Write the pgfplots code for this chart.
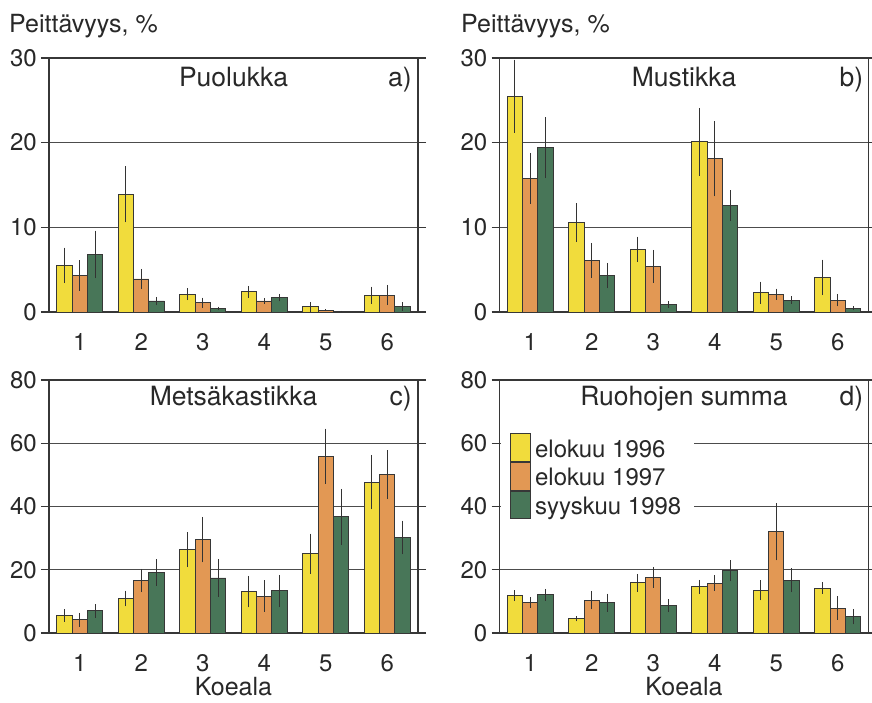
\documentclass[border=0pt]{standalone}
\usepackage{fontspec}
\setmainfont{TeX Gyre Heros}
\usepackage{pgfplots}
\usepackage{pgfplotstable}
\pgfplotsset{compat=1.18}

\definecolor{cyel}{RGB}{241,220,60}
\definecolor{cora}{RGB}{226,152,84}
\definecolor{cgre}{RGB}{72,118,88}
\definecolor{cout}{RGB}{55,55,55}
\definecolor{ctxt}{RGB}{40,40,40}

\pgfplotstableread{
x y1 e1 y2 e2 y3 e3
1 5.5 2.1 4.3 1.8 6.8 2.8
2 13.9 3.3 3.9 1.2 1.3 0.5
3 2.1 0.7 1.1 0.6 0.43 0.2
4 2.4 0.7 1.3 0.35 1.7 0.45
5 0.6 0.55 0.2 0.1 0.08 0.05
6 2.0 1.0 2.0 1.2 0.67 0.5
}\tabA
\pgfplotstableread{
x y1 e1 y2 e2 y3 e3
1 25.5 4.3 15.8 3.0 19.4 3.6
2 10.55 2.3 6.1 2.05 4.3 1.5
3 7.4 1.5 5.4 1.95 0.87 0.4
4 20.1 4.0 18.1 4.45 12.6 1.8
5 2.3 1.3 2.1 0.65 1.4 0.45
6 4.1 2.1 1.4 0.75 0.43 0.25
}\tabB
\pgfplotstableread{
x y1 e1 y2 e2 y3 e3
1 5.5 1.95 4.2 2.2 7.0 2.1
2 10.9 2.5 16.6 3.7 19.1 4.2
3 26.3 5.5 29.5 7.2 17.4 5.9
4 13.1 5.0 11.7 5.0 13.3 5.1
5 25.1 6.3 55.9 8.7 36.7 8.9
6 47.7 8.6 50.1 7.75 30.2 5.3
}\tabC
\pgfplotstableread{
x y1 e1 y2 e2 y3 e3
1 11.8 1.7 9.7 1.7 12.1 1.85
2 4.5 0.85 10.4 2.9 9.6 2.85
3 15.9 2.8 17.6 3.3 8.65 2.05
4 14.6 2.2 15.8 2.4 19.7 3.3
5 13.5 3.2 32.0 9.0 16.7 3.8
6 14.2 1.8 7.9 3.7 5.1 2.4
}\tabD

\pgfplotsset{
  panel/.style={
    scale only axis,
    width=369pt,
    xmin=0.5, xmax=6.5,
    ymin=0,
    xtick={1,2,3,4,5,6},
    xtick style={draw=none},
    ytick style={line width=1.4pt, color=cout},
    tick align=outside,
    major tick length=8pt,
    ymajorgrids,
    major grid style={line width=0.9pt, color=black!70},
    axis line style={line width=1.8pt, color=cout},
    /pgf/number format/assume math mode=true,
    tick label style={font=\fontsize{24}{29}\selectfont, text=ctxt},
    yticklabel style={inner xsep=4pt},
    xticklabel style={yshift=-10pt},
    ybar,
    bar width=0.25,
    clip=true,
  },
  b1/.style={fill=cyel, draw=cout, line width=0.9pt, bar shift=-0.25,
    error bars/.cd, y dir=both, y explicit, error mark=none,
    error bar style={line width=1.1pt, color=black!80}},
  b2/.style={fill=cora, draw=cout, line width=0.9pt, bar shift=0,
    error bars/.cd, y dir=both, y explicit, error mark=none,
    error bar style={line width=1.1pt, color=black!80}},
  b3/.style={fill=cgre, draw=cout, line width=0.9pt, bar shift=0.25,
    error bars/.cd, y dir=both, y explicit, error mark=none,
    error bar style={line width=1.1pt, color=black!80}},
}

\newcommand{\ttl}{\fontsize{26.5}{31}\selectfont}
\newcommand{\lbl}{\fontsize{25}{30}\selectfont}

\begin{document}
\begin{tikzpicture}
\useasboundingbox (0,0) rectangle (872pt,702pt);

% panel a
\begin{axis}[panel, at={(49pt,390pt)}, anchor=south west, height=254pt,
  ymax=30, ytick={0,10,20,30}]
\addplot+[b1] table[x=x, y=y1, y error=e1] {\tabA};
\addplot+[b2] table[x=x, y=y2, y error=e2] {\tabA};
\addplot+[b3] table[x=x, y=y3, y error=e3] {\tabA};
\node[anchor=base, text=ctxt, font=\ttl] at (rel axis cs:0.5,1) [yshift=-29pt] {Puolukka};
\node[anchor=base east, text=ctxt, font=\ttl, inner sep=0pt] at (rel axis cs:1,1) [xshift=-6pt, yshift=-29pt] {a)};
\end{axis}

% panel b
\begin{axis}[panel, at={(499.5pt,390pt)}, anchor=south west, height=254pt,
  ymax=30, ytick={0,10,20,30}]
\addplot+[b1] table[x=x, y=y1, y error=e1] {\tabB};
\addplot+[b2] table[x=x, y=y2, y error=e2] {\tabB};
\addplot+[b3] table[x=x, y=y3, y error=e3] {\tabB};
\node[anchor=base, text=ctxt, font=\ttl] at (rel axis cs:0.5,1) [yshift=-29pt] {Mustikka};
\node[anchor=base east, text=ctxt, font=\ttl, inner sep=0pt] at (rel axis cs:1,1) [xshift=-5pt, yshift=-29pt] {b)};
\end{axis}

% panel c
\begin{axis}[panel, at={(49pt,69pt)}, anchor=south west, height=253pt,
  ymax=80, ytick={0,20,40,60,80},
  xlabel={Koeala},
  xlabel style={at={(axis description cs:0.5,0)}, anchor=center, yshift=-54pt, inner sep=0pt, font=\fontsize{25}{30}\selectfont, text=ctxt}]
\addplot+[b1] table[x=x, y=y1, y error=e1] {\tabC};
\addplot+[b2] table[x=x, y=y2, y error=e2] {\tabC};
\addplot+[b3] table[x=x, y=y3, y error=e3] {\tabC};
\node[anchor=base, text=ctxt, font=\ttl] at (rel axis cs:0.5,1) [yshift=-25pt] {Metsäkastikka};
\node[anchor=base east, text=ctxt, font=\ttl, inner sep=0pt] at (rel axis cs:1,1) [xshift=-6pt, yshift=-25pt] {c)};
\end{axis}

% panel d
\begin{axis}[panel, at={(499.5pt,69pt)}, anchor=south west, height=253pt,
  ymax=80, ytick={0,20,40,60,80},
  xlabel={Koeala},
  xlabel style={at={(axis description cs:0.5,0)}, anchor=center, yshift=-54pt, inner sep=0pt, font=\fontsize{25}{30}\selectfont, text=ctxt},
  legend cell align=left,
  legend image code/.code={\draw[#1] (0pt,-12.35pt) rectangle (20pt,15.35pt);},
  legend style={at={(0.004,0.79)}, anchor=north west, draw=none, fill=white,
    inner xsep=9pt, inner ysep=0pt, row sep=0pt,
    font=\fontsize{24}{29}\selectfont, text=ctxt,
    nodes={inner xsep=4pt, inner ysep=2pt}},
]
\addplot+[b1] table[x=x, y=y1, y error=e1] {\tabD};
\addplot+[b2] table[x=x, y=y2, y error=e2] {\tabD};
\addplot+[b3] table[x=x, y=y3, y error=e3] {\tabD};
\legend{elokuu 1996, elokuu 1997, syyskuu 1998}
\node[anchor=base, text=ctxt, font=\ttl] at (rel axis cs:0.5,1) [yshift=-25pt] {Ruohojen summa};
\node[anchor=base east, text=ctxt, font=\ttl, inner sep=0pt] at (rel axis cs:1,1) [xshift=-5pt, yshift=-25pt] {d)};
\end{axis}

\node[anchor=base west, text=ctxt, font=\lbl, inner sep=0pt] at (9pt,669pt) {Peittävyys, \%};
\node[anchor=base west, text=ctxt, font=\lbl, inner sep=0pt] at (461pt,669pt) {Peittävyys, \%};
\end{tikzpicture}
\end{document}
